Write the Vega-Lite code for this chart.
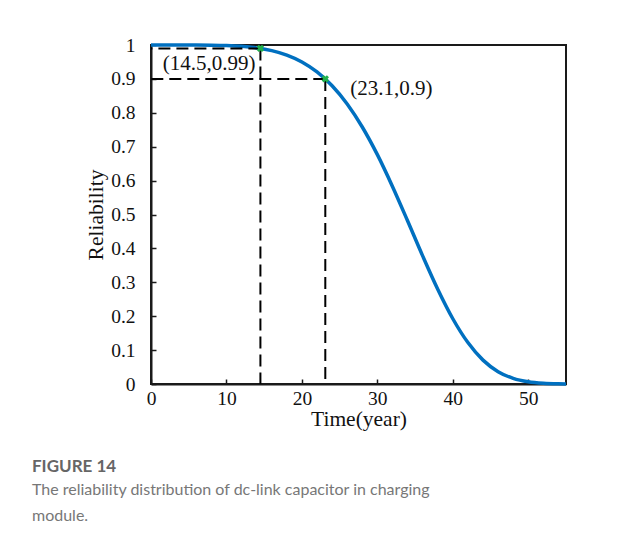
{
  "$schema": "https://vega.github.io/schema/vega-lite/v6.json",
  "autosize": "none",
  "width": 415,
  "height": 339,
  "padding": {"left": 151, "top": 45, "right": 74, "bottom": 165},
  "background": "white",
  "config": {
    "view": {"stroke": "#1a1a1a", "strokeWidth": 2},
    "axis": {
      "grid": false,
      "domainColor": "#1a1a1a",
      "domainWidth": 2,
      "tickColor": "#1a1a1a",
      "tickWidth": 1.5,
      "tickSize": -5,
      "labelOverlap": false,
      "labelFlush": false
    }
  },
  "title": {
    "text": "FIGURE 14",
    "subtitle": ["The reliability distribution of dc-link capacitor in charging", "module."],
    "orient": "bottom",
    "anchor": "start",
    "frame": "group",
    "dx": -119,
    "offset": 29,
    "font": "Lato",
    "fontSize": 17,
    "fontWeight": "bold",
    "color": "#666666",
    "subtitleFont": "Lato",
    "subtitleFontSize": 16,
    "subtitleColor": "#777777",
    "subtitleLineHeight": 26,
    "subtitlePadding": 6
  },
  "datasets": {
    "curve": [
      {"t": 0, "r": 1.0},
      {"t": 2, "r": 1.0},
      {"t": 4, "r": 1.0},
      {"t": 6, "r": 0.9999},
      {"t": 8, "r": 0.9995},
      {"t": 10, "r": 0.9984},
      {"t": 12, "r": 0.996},
      {"t": 14, "r": 0.9914},
      {"t": 16, "r": 0.9833},
      {"t": 18, "r": 0.9701},
      {"t": 20, "r": 0.9498},
      {"t": 22, "r": 0.9204},
      {"t": 24, "r": 0.8798},
      {"t": 26, "r": 0.8261},
      {"t": 28, "r": 0.7581},
      {"t": 30, "r": 0.6765},
      {"t": 32, "r": 0.5828},
      {"t": 34, "r": 0.4815},
      {"t": 36, "r": 0.378},
      {"t": 38, "r": 0.2796},
      {"t": 40, "r": 0.1925},
      {"t": 42, "r": 0.1222},
      {"t": 44, "r": 0.0704},
      {"t": 46, "r": 0.0364},
      {"t": 48, "r": 0.0166},
      {"t": 50, "r": 0.0066},
      {"t": 52, "r": 0.0022},
      {"t": 54, "r": 0.0006},
      {"t": 55, "r": 0.0003}
    ],
    "marks": [
      {"t": 14.5, "r": 0.99, "label": "(14.5,0.99)", "side": "left"},
      {"t": 23.1, "r": 0.9, "label": "(23.1,0.9)", "side": "right"}
    ]
  },
  "encoding": {
    "x": {
      "field": "t", "type": "quantitative",
      "scale": {"domain": [0, 55], "nice": false, "zero": false},
      "axis": {
        "values": [0, 10, 20, 30, 40, 50], "title": "Time(year)",
        "labelFont": "Liberation Serif", "labelFontSize": 19.5, "labelColor": "#111",
        "titleFont": "Liberation Serif", "titleFontSize": 21.5, "titleFontWeight": "normal", "titleColor": "#111",
        "labelPadding": 10, "titlePadding": 1, "labelFlush": false
      }
    },
    "y": {
      "field": "r", "type": "quantitative",
      "scale": {"domain": [0, 1], "nice": false},
      "axis": {
        "values": [0, 0.1, 0.2, 0.3, 0.4, 0.5, 0.6, 0.7, 0.8, 0.9, 1], "format": ".1~f", "title": "Reliability",
        "labelFont": "Liberation Serif", "labelFontSize": 19.5, "labelColor": "#111",
        "titleFont": "Liberation Serif", "titleFontSize": 21.5, "titleFontWeight": "normal", "titleColor": "#111",
        "labelPadding": 21, "titlePadding": 3, "labelOverlap": false, "labelFlush": false
      }
    }
  },
  "layer": [
    {
      "data": {"name": "curve"},
      "mark": {"type": "line", "color": "#0070C0", "strokeWidth": 3.5, "interpolate": "monotone", "clip": false}
    },
    {
      "data": {"name": "marks"},
      "mark": {"type": "rule", "color": "#000", "strokeWidth": 2, "strokeDash": [12, 6]},
      "encoding": {
        "y2": {"datum": 0}
      }
    },
    {
      "data": {"name": "marks"},
      "mark": {"type": "rule", "color": "#000", "strokeWidth": 2, "strokeDash": [12, 6]},
      "encoding": {
        "x2": {"datum": 0}
      }
    },
    {
      "data": {"name": "marks"},
      "mark": {"type": "point", "shape": "cross", "filled": true, "color": "#1fb04b", "size": 55, "angle": 45, "opacity": 1}
    },
    {
      "data": {"name": "marks"},
      "transform": [{"filter": "datum.side == 'left'"}],
      "mark": {"type": "text", "font": "Liberation Serif", "fontSize": 21, "align": "right", "baseline": "middle", "dx": -5, "dy": 16, "color": "#111"},
      "encoding": {
        "text": {"field": "label"}
      }
    },
    {
      "data": {"name": "marks"},
      "transform": [{"filter": "datum.side == 'right'"}],
      "mark": {"type": "text", "font": "Liberation Serif", "fontSize": 21, "align": "left", "baseline": "middle", "dx": 25, "dy": 10, "color": "#111"},
      "encoding": {
        "text": {"field": "label"}
      }
    }
  ]
}
